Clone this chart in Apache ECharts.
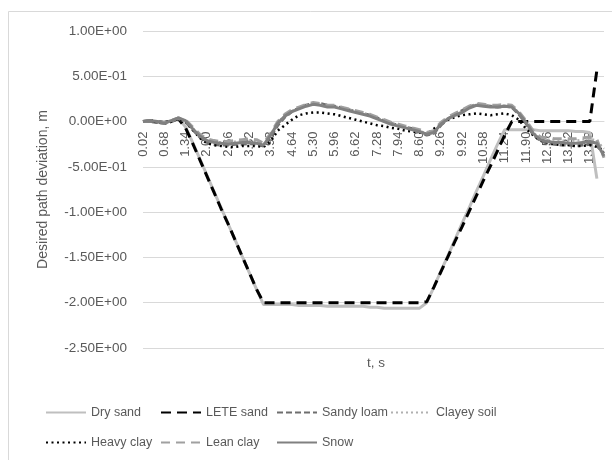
<!DOCTYPE html>
<html><head><meta charset="utf-8">
<script src="https://cdn.jsdelivr.net/npm/echarts@6/dist/echarts.min.js"></script>
<style>html,body{margin:0;padding:0;background:#fff}#c{width:612px;height:460px}</style>
</head><body><div id="c"></div>
<script>
const categories = ["0.02","0.24","0.46","0.68","0.90","1.12","1.34","1.56","1.78","2.00","2.22","2.44","2.66","2.88","3.10","3.32","3.54","3.76","3.98","4.20","4.42","4.64","4.86","5.08","5.30","5.52","5.74","5.96","6.18","6.40","6.62","6.84","7.06","7.28","7.50","7.72","7.94","8.16","8.38","8.60","8.82","9.04","9.26","9.48","9.70","9.92","10.14","10.36","10.58","10.80","11.02","11.24","11.46","11.68","11.90","12.12","12.34","12.56","12.78","13.00","13.22","13.44","13.66","13.88","14.10","14.32"];

const drySand = [0.00,0.01,0.00,-0.01,0.01,0.04,
 -0.06,-0.23,-0.41,-0.59,-0.77,-0.95,-1.13,-1.31,-1.49,-1.67,-1.85,-2.02,
 -2.02,-2.02,-2.02,-2.02,-2.03,-2.03,-2.03,-2.03,-2.04,-2.04,-2.04,-2.04,-2.04,-2.04,-2.05,-2.05,-2.06,-2.06,-2.06,-2.06,-2.06,-2.06,
 -2.00,-1.83,-1.65,-1.48,-1.30,-1.12,-0.95,-0.77,-0.60,-0.42,-0.25,-0.09,
 -0.09,-0.09,-0.09,-0.09,-0.10,-0.10,-0.10,-0.10,-0.10,-0.11,-0.11,-0.12,
 -0.63,null];

const leteSand = [0.00,0.01,0.00,-0.01,0.01,0.03,
 -0.07,-0.24,-0.42,-0.60,-0.78,-0.96,-1.13,-1.31,-1.49,-1.67,-1.85,-2.00,
 -2.00,-2.00,-2.00,-2.00,-2.00,-2.00,-2.00,-2.00,-2.00,-2.00,-2.00,-2.00,-2.00,-2.00,-2.00,-2.00,-2.00,-2.00,-2.00,-2.00,-2.00,-2.00,
 -1.99,-1.83,-1.66,-1.49,-1.32,-1.16,-0.99,-0.82,-0.65,-0.49,-0.32,-0.15,
 0.00,0.00,0.00,0.00,0.00,0.00,0.00,0.00,0.00,0.00,0.00,0.00,
 0.57,null];

const sandyLoam = [0.00,0.00,-0.01,-0.02,0.00,0.03,0.00,-0.09,-0.17,-0.23,
 -0.25,-0.26,-0.26,-0.25,-0.25,-0.24,-0.25,-0.27,-0.17,-0.04,
 0.05,0.11,0.15,0.18,0.20,0.20,0.18,0.17,0.15,0.13,
 0.11,0.09,0.07,0.04,0.01,-0.02,-0.04,-0.06,-0.08,-0.11,
 -0.15,-0.13,-0.04,0.03,0.08,0.12,0.16,0.19,0.18,0.17,
 0.16,0.17,0.16,0.08,-0.02,-0.14,-0.21,-0.24,-0.25,-0.26,
 -0.26,-0.27,-0.26,-0.25,-0.27,-0.35];

const clayeySoil = [0.00,0.01,0.00,-0.01,0.01,0.04,0.01,-0.07,-0.15,-0.20,
 -0.22,-0.23,-0.23,-0.22,-0.21,-0.21,-0.22,-0.25,-0.14,-0.01,
 0.07,0.12,0.15,0.18,0.20,0.19,0.17,0.17,0.15,0.13,
 0.11,0.09,0.07,0.04,0.01,-0.02,-0.04,-0.06,-0.08,-0.10,
 -0.13,-0.11,-0.02,0.04,0.08,0.11,0.16,0.19,0.18,0.17,
 0.17,0.18,0.17,0.10,0.00,-0.12,-0.18,-0.20,-0.20,-0.21,
 -0.21,-0.21,-0.20,-0.19,-0.21,-0.30];

const heavyClay = [0.00,0.01,-0.01,-0.02,0.00,0.03,0.00,-0.09,-0.18,-0.24,
 -0.26,-0.27,-0.28,-0.28,-0.27,-0.27,-0.27,-0.28,-0.22,-0.10,
 -0.04,0.02,0.07,0.09,0.10,0.10,0.09,0.08,0.06,0.04,
 0.02,0.00,-0.02,-0.04,-0.05,-0.07,-0.08,-0.10,-0.11,-0.12,
 -0.14,-0.08,-0.03,0.02,0.05,0.07,0.08,0.09,0.08,0.07,
 0.08,0.09,0.07,0.02,-0.08,-0.15,-0.21,-0.23,-0.25,-0.26,
 -0.26,-0.27,-0.27,-0.26,-0.28,-0.32];

const leanClay = [0.00,0.01,0.00,-0.01,0.01,0.04,0.02,-0.06,-0.14,-0.19,
 -0.21,-0.22,-0.22,-0.21,-0.20,-0.19,-0.20,-0.24,-0.13,0.00,
 0.08,0.13,0.16,0.19,0.21,0.20,0.18,0.18,0.16,0.14,
 0.12,0.10,0.08,0.05,0.02,-0.01,-0.03,-0.05,-0.07,-0.09,
 -0.12,-0.10,-0.01,0.05,0.09,0.13,0.17,0.20,0.19,0.18,
 0.18,0.19,0.18,0.11,0.01,-0.10,-0.17,-0.18,-0.19,-0.19,
 -0.19,-0.19,-0.18,-0.17,-0.20,-0.40];

const snow = [0.00,0.01,0.00,-0.02,0.01,0.04,0.01,-0.08,-0.16,-0.21,
 -0.23,-0.24,-0.25,-0.24,-0.23,-0.23,-0.24,-0.26,-0.15,-0.02,
 0.06,0.11,0.14,0.17,0.19,0.18,0.16,0.16,0.14,0.12,
 0.10,0.08,0.06,0.03,0.00,-0.03,-0.05,-0.07,-0.09,-0.11,
 -0.14,-0.12,-0.03,0.03,0.07,0.10,0.15,0.18,0.17,0.16,
 0.16,0.17,0.16,0.09,-0.01,-0.13,-0.20,-0.22,-0.23,-0.23,
 -0.24,-0.24,-0.23,-0.22,-0.24,-0.38];

const yTicks = {min: -2.5, max: 1, interval: 0.5};

const FONT = 'Liberation Sans';
const TXT = '#595959';
const GRID = {left: 143, right: 8, top: 31, bottom: 112};
const plotH = 460 - GRID.top - GRID.bottom;
// move the category axis from the bottom of the grid up to the zero line
const zeroOffset = -plotH * (0 - yTicks.min) / (yTicks.max - yTicks.min);

function sciFmt(v) {
  const parts = Number(v).toExponential(2).split('e');
  let e = parseInt(parts[1], 10);
  const sign = e < 0 ? '-' : '+';
  e = Math.abs(e);
  return parts[0] + 'E' + sign + (e < 10 ? '0' + e : String(e));
}

function mk(name, data, color, width, type) {
  return {
    name, type: 'line', data, symbol: 'none', smooth: false, connectNulls: false,
    lineStyle: {color, width, type}, itemStyle: {color},
    emphasis: {disabled: true}, animation: false
  };
}

const series = [
  mk('Dry sand', drySand, '#BFBFBF', 3, 'solid'),
  mk('LETE sand', leteSand, '#000000', 3, [10, 6]),
  mk('Sandy loam', sandyLoam, '#6E6E6E', 3, [6, 3]),
  mk('Clayey soil', clayeySoil, '#B0B0B0', 2.2, [2, 3]),
  mk('Heavy clay', heavyClay, '#000000', 2.5, [2, 3.5]),
  mk('Lean clay', leanClay, '#A0A0A0', 3, [9, 6]),
  mk('Snow', snow, '#808080', 3, 'solid')
];

function leg(left, names) {
  return {
    orient: 'vertical', left, top: 406, padding: 0, itemWidth: 40, itemHeight: 14, itemGap: 17,
    data: names, selectedMode: false,
    itemStyle: {opacity: 0, color: 'rgba(0,0,0,0)', borderWidth: 0},
    textStyle: {fontFamily: FONT, fontSize: 12.5, color: TXT}
  };
}

const chart = echarts.init(document.getElementById('c'), null, {renderer: 'canvas'});
chart.setOption({
  animation: false,
  backgroundColor: '#fff',
  grid: Object.assign({containLabel: false}, GRID),
  xAxis: {
    type: 'category', data: categories, boundaryGap: false, position: 'bottom', offset: zeroOffset,
    axisLine: {onZero: false, lineStyle: {color: '#D9D9D9', width: 1}},
    axisTick: {show: false},
    axisLabel: {interval: 2, rotate: 90, margin: 10, fontFamily: FONT, fontSize: 13, color: TXT},
    splitLine: {show: false}
  },
  yAxis: {
    type: 'value', min: yTicks.min, max: yTicks.max, interval: yTicks.interval,
    name: 'Desired path deviation, m', nameLocation: 'middle', nameGap: 93,
    nameTextStyle: {fontFamily: FONT, fontSize: 14, color: TXT},
    axisLine: {show: false}, axisTick: {show: false},
    axisLabel: {formatter: sciFmt, margin: 16, fontFamily: FONT, fontSize: 13.5, color: TXT},
    splitLine: {lineStyle: {color: '#D9D9D9', width: 1}}
  },
  legend: [
    leg(45, ['Dry sand', 'Heavy clay']),
    leg(160, ['LETE sand', 'Lean clay']),
    leg(276, ['Sandy loam', 'Snow']),
    leg(390, ['Clayey soil'])
  ],
  graphic: [
    {type: 'rect', shape: {x: 8.5, y: 11.5, width: 640, height: 480}, style: {fill: 'none', stroke: '#D9D9D9', lineWidth: 1}, silent: true, z: -10},
    {type: 'text', x: 376, y: 363, style: {text: 't, s', fontFamily: FONT, fontSize: 13.5, fill: TXT, textAlign: 'center', textVerticalAlign: 'middle'}}
  ],
  series
});
</script>
</body></html>
